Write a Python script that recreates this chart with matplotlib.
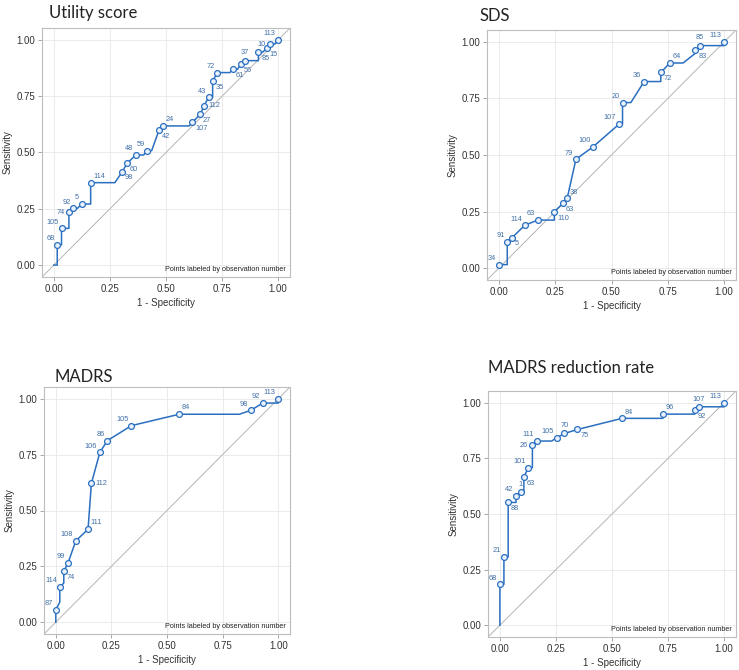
import matplotlib
matplotlib.use("Agg")
import matplotlib.pyplot as plt

# -------------------------
# Data
# -------------------------
titles = ["Utility score", "SDS", "MADRS", "MADRS reduction rate"]
tick_vals = [0.0, 0.25, 0.5, 0.75, 1.0]
tick_labels = ["0.00", "0.25", "0.50", "0.75", "1.00"]

# Utility score
util_curve_x = [0, 0.015, 0.015, 0.034, 0.034, 0.067, 0.067, 0.086, 0.105, 0.124, 0.164, 0.164, 0.272,
                0.305, 0.327, 0.365, 0.40, 0.417, 0.436, 0.469, 0.488, 0.603, 0.618, 0.653, 0.670,
                0.690, 0.708, 0.708, 0.729, 0.785, 0.797, 0.818, 0.835, 0.853, 0.912, 0.912, 0.930,
                0.949, 0.964, 0.985, 1.0]
util_curve_y = [0, 0, 0.09, 0.09, 0.163, 0.163, 0.234, 0.252, 0.252, 0.271, 0.271, 0.366, 0.366,
                0.415, 0.452, 0.489, 0.489, 0.508, 0.508, 0.600, 0.618, 0.618, 0.634, 0.670, 0.708,
                0.745, 0.745, 0.818, 0.855, 0.855, 0.869, 0.869, 0.892, 0.908, 0.908, 0.945, 0.945,
                0.962, 0.981, 0.981, 1.0]
util_pts_x = [0.015, 0.034, 0.067, 0.086, 0.124, 0.164, 0.305, 0.327, 0.365, 0.417, 0.469, 0.488,
              0.618, 0.653, 0.670, 0.690, 0.708, 0.729, 0.797, 0.835, 0.853, 0.912, 0.949, 0.964, 1.0]
util_pts_y = [0.09, 0.163, 0.234, 0.252, 0.271, 0.366, 0.415, 0.452, 0.489, 0.508, 0.600, 0.618,
              0.634, 0.670, 0.708, 0.745, 0.818, 0.855, 0.869, 0.892, 0.908, 0.945, 0.962, 0.981, 1.0]
util_labels = ["68", "105", "74", "92", "5", "114", "98", "60", "48", "59", "42", "24",
               "107", "27", "112", "43", "35", "72", "61", "56", "37", "85", "15", "10", "113"]
util_where = ["ul", "ul", "l", "ul", "ul", "ur", "lr", "lr", "ul", "ul", "lr", "ur",
              "lr", "lr", "r", "ul", "lr", "ul", "lr", "lr", "u", "lr", "lr", "l", "ul"]

# SDS
sds_curve_x = [0, 0, 0.037, 0.037, 0.059, 0.115, 0.172, 0.246, 0.246, 0.286, 0.303, 0.342, 0.419,
               0.533, 0.549, 0.549, 0.586, 0.645, 0.719, 0.719, 0.759, 0.818, 0.870, 0.873, 0.892,
               1.0, 1.0]
sds_curve_y = [0, 0.015, 0.015, 0.115, 0.135, 0.189, 0.212, 0.212, 0.249, 0.288, 0.308, 0.481, 0.537,
               0.636, 0.636, 0.732, 0.732, 0.825, 0.825, 0.865, 0.907, 0.907, 0.948, 0.963, 0.984,
               0.984, 1.0]
sds_pts_x = [0, 0.037, 0.059, 0.115, 0.172, 0.246, 0.286, 0.303, 0.342, 0.419, 0.533, 0.549,
             0.645, 0.719, 0.759, 0.873, 0.892, 1.0]
sds_pts_y = [0.015, 0.115, 0.135, 0.189, 0.212, 0.249, 0.288, 0.308, 0.481, 0.537, 0.636, 0.732,
             0.825, 0.865, 0.907, 0.963, 0.984, 1.0]
sds_labels = ["34", "91", "5", "114", "63", "110", "63", "38", "79", "100", "107", "20",
              "36", "72", "64", "83", "85", "113"]
sds_where = ["ul", "ul", "lr", "ul", "ul", "lr", "lr", "ur", "ul", "ul", "ul", "ul",
             "ul", "lr", "ur", "lr", "u", "ul"]

# MADRS
madrs_curve_x = [0, 0, 0.018, 0.018, 0.036, 0.036, 0.055, 0.09, 0.145, 0.160, 0.198, 0.232, 0.340,
                 0.555, 0.825, 0.876, 0.930, 1.0, 1.0]
madrs_curve_y = [0, 0.055, 0.09, 0.157, 0.175, 0.228, 0.265, 0.364, 0.416, 0.621, 0.760, 0.813, 0.880,
                 0.931, 0.931, 0.948, 0.981, 0.981, 1.0]
madrs_pts_x = [0, 0.018, 0.036, 0.055, 0.09, 0.145, 0.160, 0.198, 0.232, 0.340, 0.555, 0.876, 0.930, 1.0]
madrs_pts_y = [0.055, 0.157, 0.228, 0.265, 0.364, 0.416, 0.621, 0.760, 0.813, 0.880, 0.931, 0.948, 0.981, 1.0]
madrs_labels = ["87", "114", "74", "99", "108", "111", "112", "106", "86", "105", "84", "98", "92", "113"]
madrs_where = ["ul", "ul", "lr", "ul", "ul", "ur", "r", "ul", "ul", "ul", "ur", "ul", "ul", "ul"]

# MADRS reduction rate
red_curve_x = [0, 0, 0.018, 0.018, 0.037, 0.037, 0.072, 0.072, 0.093, 0.107, 0.107, 0.127, 0.145,
               0.145, 0.164, 0.231, 0.254, 0.288, 0.346, 0.545, 0.727, 0.727, 0.869, 0.869, 0.888,
               1.0, 1.0]
red_curve_y = [0, 0.184, 0.184, 0.307, 0.307, 0.552, 0.552, 0.582, 0.600, 0.600, 0.667, 0.708, 0.708,
               0.810, 0.828, 0.828, 0.843, 0.862, 0.880, 0.930, 0.930, 0.949, 0.949, 0.967, 0.982,
               0.982, 1.0]
red_pts_x = [0, 0.018, 0.037, 0.072, 0.093, 0.107, 0.127, 0.145, 0.164, 0.254, 0.288, 0.346,
             0.545, 0.727, 0.869, 0.888, 1.0]
red_pts_y = [0.184, 0.307, 0.552, 0.582, 0.600, 0.667, 0.708, 0.810, 0.828, 0.843, 0.862, 0.880,
             0.930, 0.949, 0.967, 0.982, 1.0]
red_labels = ["68", "21", "88", "42", "1", "63", "101", "26", "111", "105", "70", "75",
              "84", "96", "92", "107", "113"]
red_where = ["ul", "ul", "lr", "ul", "u", "lr", "ul", "l", "ul", "ul", "u", "lr",
             "ur", "ur", "lr", "u", "ul"]

# -------------------------
# Style
# -------------------------
LINE = "#2a6fc0"
LABEL = "#4170a8"
FRAME = "#bdbdbd"
TXT = "#333333"

offsets = {
    "ul": (-2, 2, "right", "bottom"),
    "ur": (2, 2, "left", "bottom"),
    "lr": (2, -2, "left", "top"),
    "ll": (-2, -2, "right", "top"),
    "l": (-3, 0, "right", "center"),
    "r": (3, 0, "left", "center"),
    "u": (0, 3, "center", "bottom"),
}


def draw_roc(ax, cx, cy, px, py, labels, where):
    ax.set_xlim(-0.053, 1.053)
    ax.set_ylim(-0.053, 1.053)
    ax.axline((0, 0), slope=1, color="#b5b5b5", lw=0.7, zorder=1)
    ax.plot(cx, cy, color=LINE, lw=1.1, zorder=3)
    ax.plot(px, py, "o", ms=4.2, mfc="#eaf2fb", mec=LINE, mew=0.9, zorder=4)
    for x, y, lab, w in zip(px, py, labels, where):
        dx, dy, ha, va = offsets[w]
        ax.annotate(lab, (x, y), xytext=(dx, dy), textcoords="offset points",
                    ha=ha, va=va, fontsize=5.3, color=LABEL, family="Liberation Sans", zorder=5)
    ax.set_xticks(tick_vals)
    ax.set_xticklabels(tick_labels)
    ax.set_yticks(tick_vals)
    ax.set_yticklabels(tick_labels)
    ax.grid(True, color="#e8e8e8", lw=0.6, zorder=0)
    ax.set_axisbelow(True)
    for s in ax.spines.values():
        s.set_color(FRAME)
        s.set_linewidth(0.8)
    ax.tick_params(length=3, width=0.6, color="#999999", labelsize=7, labelcolor=TXT, pad=2)
    for t in ax.get_xticklabels() + ax.get_yticklabels():
        t.set_family("Liberation Sans")
    ax.set_xlabel("1 - Specificity", fontsize=7, color=TXT, family="Liberation Sans", labelpad=3)
    ax.set_ylabel("Sensitivity", fontsize=7, color=TXT, family="Liberation Sans", labelpad=3)
    ax.text(0.985, 0.015, "Points labeled by observation number", transform=ax.transAxes,
            ha="right", va="bottom", fontsize=5.2, color="#222222", family="Liberation Sans")


W, H = 739, 670
fig = plt.figure(figsize=(W / 100, H / 100), dpi=100)


def box(left, top, right, bottom):
    return [left / W, 1 - bottom / H, (right - left) / W, (bottom - top) / H]


ax1 = fig.add_axes(box(42, 28, 290, 277))
ax2 = fig.add_axes(box(487, 30, 736, 280))
ax3 = fig.add_axes(box(44, 387, 290, 634))
ax4 = fig.add_axes(box(488, 391, 736, 637))

draw_roc(ax1, util_curve_x, util_curve_y, util_pts_x, util_pts_y, util_labels, util_where)
draw_roc(ax2, sds_curve_x, sds_curve_y, sds_pts_x, sds_pts_y, sds_labels, sds_where)
draw_roc(ax3, madrs_curve_x, madrs_curve_y, madrs_pts_x, madrs_pts_y, madrs_labels, madrs_where)
draw_roc(ax4, red_curve_x, red_curve_y, red_pts_x, red_pts_y, red_labels, red_where)

title_pos = [(49, 13), (480, 16), (55, 377), (488, 368)]
for t, (x, y) in zip(titles, title_pos):
    fig.text(x / W, 1 - y / H, t, ha="left", va="center", fontsize=12, color="#222222",
             family="Lato")

fig.savefig("out.png", dpi=100)
